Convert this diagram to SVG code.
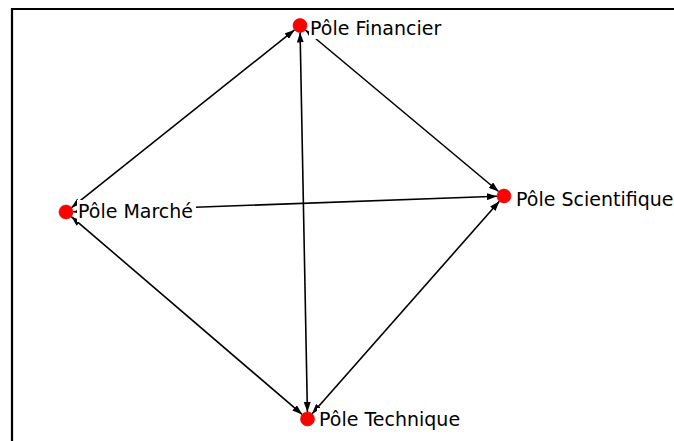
<svg xmlns="http://www.w3.org/2000/svg" width="674" height="441" viewBox="0 0 674 441">
<defs>
<style>
.edge{stroke:#000;stroke-width:1.6;fill:none;marker-start:url(#ah);marker-end:url(#ah)}
.node{fill:#ff0000;stroke:#d00000;stroke-width:0.6}
.lbl{font-family:"DejaVu Sans",Verdana,sans-serif;font-size:19px;fill:#000}
.bg{fill:#fff}
</style>
<marker id="ah" viewBox="0 0 10 7" refX="10" refY="3.5" markerWidth="10" markerHeight="7" markerUnits="userSpaceOnUse" orient="auto-start-reverse">
<path d="M0,0 L10,3.5 L0,7 z" fill="#000"/>
</marker>
</defs>
<rect x="0" y="0" width="674" height="441" fill="#fff"/>
<path d="M12,441 V9 H674" stroke="#000" stroke-width="2.2" fill="none"/>
<g id="connectors">
<line class="edge" x1="71.5" y1="207.6" x2="294.5" y2="29.9"/>
<line class="edge" x1="73.0" y1="211.7" x2="497.0" y2="196.3"/>
<line class="edge" x1="71.3" y1="216.6" x2="302.2" y2="414.4"/>
<line class="edge" x1="305.4" y1="30.0" x2="498.6" y2="191.5"/>
<line class="edge" x1="300.1" y1="32.5" x2="307.4" y2="412.0"/>
<line class="edge" x1="499.4" y1="201.3" x2="312.1" y2="413.7"/>
</g>
<g id="financier">
<rect class="bg" x="309" y="17" width="136" height="22"/>
<circle class="node" cx="300" cy="25.5" r="7"/>
<text class="lbl" x="310" y="35">Pôle Financier</text>
</g>
<g id="marche">
<rect class="bg" x="77" y="200" width="119" height="22"/>
<circle class="node" cx="66" cy="212" r="7"/>
<text class="lbl" x="78" y="218">Pôle Marché</text>
</g>
<g id="scientifique">
<rect class="bg" x="515" y="188" width="159" height="22"/>
<circle class="node" cx="504" cy="196" r="7"/>
<text class="lbl" x="516" y="206">Pôle Scientifique</text>
</g>
<g id="technique">
<rect class="bg" x="317" y="408" width="152" height="22"/>
<circle class="node" cx="307.5" cy="419" r="7"/>
<text class="lbl" x="319" y="426">Pôle Technique</text>
</g>
</svg>
